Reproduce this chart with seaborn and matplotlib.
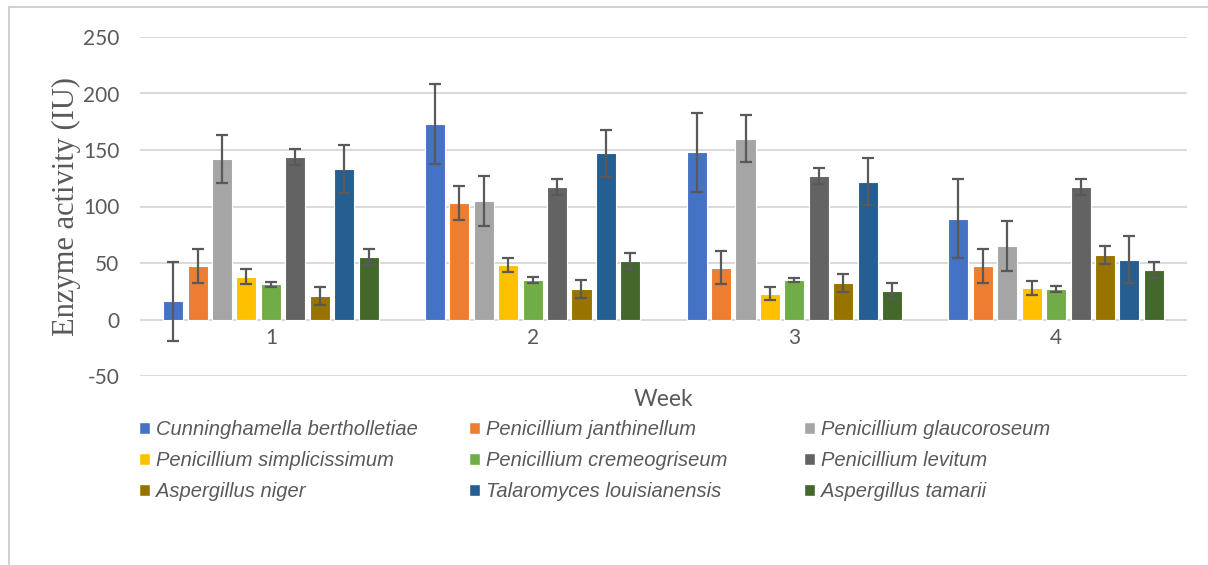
import pandas as pd
import matplotlib
matplotlib.use("Agg")
import matplotlib.pyplot as plt
from matplotlib.lines import Line2D
from matplotlib.patches import Patch
import seaborn as sns

# Chart data
weeks = ["1", "2", "3", "4"]
species = [
    "Cunninghamella bertholletiae", "Penicillium janthinellum", "Penicillium glaucoroseum",
    "Penicillium simplicissimum", "Penicillium cremeogriseum", "Penicillium levitum",
    "Aspergillus niger", "Talaromyces louisianensis", "Aspergillus tamarii",
]
# mean activity per species, one value per week
activity = {
    "Cunninghamella bertholletiae": [16, 173, 148, 89],
    "Penicillium janthinellum": [47, 103, 46, 47],
    "Penicillium glaucoroseum": [142, 105, 160, 65],
    "Penicillium simplicissimum": [38, 48, 23, 28],
    "Penicillium cremeogriseum": [31, 35, 35, 27],
    "Penicillium levitum": [144, 117, 127, 117],
    "Aspergillus niger": [21, 27, 32, 57],
    "Talaromyces louisianensis": [133, 147, 122, 53],
    "Aspergillus tamarii": [55, 52, 25, 44],
}
# error bar half-length
errors = {
    "Cunninghamella bertholletiae": [35, 35, 35, 35],
    "Penicillium janthinellum": [15, 15, 15, 15],
    "Penicillium glaucoroseum": [21, 22, 21, 22],
    "Penicillium simplicissimum": [7, 6, 6, 6],
    "Penicillium cremeogriseum": [2, 2.5, 2, 2.5],
    "Penicillium levitum": [7, 7, 7, 7],
    "Aspergillus niger": [8, 8, 8, 8],
    "Talaromyces louisianensis": [21, 21, 21, 21],
    "Aspergillus tamarii": [7, 7, 7, 7],
}
colors = ["#4472C4", "#ED7D31", "#A5A5A5", "#FFC000", "#70AD47",
          "#636363", "#997300", "#255E91", "#43682B"]

rows = []
for sp in species:
    for w, v, e in zip(weeks, activity[sp], errors[sp]):
        rows.append({"week": w, "species": sp, "value": v, "err": e})
df = pd.DataFrame(rows)

sns.set_style("white")
plt.rcParams["font.family"] = ["Lato", "DejaVu Sans"]
plt.rcParams["axes.unicode_minus"] = False

fig = plt.figure(figsize=(12.08, 5.65), dpi=100)
ax = fig.add_axes([140 / 1208, 1 - 376 / 565, 1047 / 1208, 339 / 565])

sns.barplot(data=df, x="week", y="value", hue="species", order=weeks,
            hue_order=species, palette=colors, saturation=1, width=0.84, gap=0.18,
            edgecolor="white", linewidth=0.8, errorbar=None, legend=False, ax=ax)

# error bars on each bar
for sp, cont in zip(species, ax.containers):
    xs = [b.get_x() + b.get_width() / 2 for b in cont]
    hs = [b.get_height() for b in cont]
    ax.errorbar(xs, hs, yerr=errors[sp], fmt="none", ecolor="#595959",
                elinewidth=1.6, capsize=4.3, capthick=1.6, zorder=5)

ax.set_xlim(-0.5, 3.5)
ax.set_ylim(-50, 250)
ax.set_yticks(range(-50, 251, 50))
ax.yaxis.grid(True, color="#d9d9d9", linewidth=1.4)
ax.set_axisbelow(True)
for s in ax.spines.values():
    s.set_visible(False)
ax.spines["bottom"].set_position(("data", 0))
ax.tick_params(axis="both", length=0, labelsize=15, labelcolor="#595959")
ax.tick_params(axis="x", pad=6)
ax.tick_params(axis="y", pad=15)

ax.set_xlabel("Week", fontsize=16.5, color="#595959")
ax.xaxis.set_label_coords(0.5, -0.038)
ax.set_ylabel("Enzyme activity (IU)", fontsize=22, color="#595959",
              family="Liberation Serif", labelpad=1)

# legend in three columns, row-wise order like the original
col_x = [139 / 1208, 469 / 1208, 804 / 1208]
for c in range(3):
    idx = [c, c + 3, c + 6]
    handles = [Patch(facecolor=colors[i]) for i in idx]
    labels = [species[i] for i in idx]
    leg = fig.legend(handles, labels, loc="upper left",
                     bbox_to_anchor=(col_x[c], 1 - 420 / 565), frameon=False,
                     handlelength=0.55, handleheight=0.55, handletextpad=0.3,
                     labelspacing=0.6, borderaxespad=0, borderpad=0,
                     prop={"family": "Liberation Sans", "style": "italic", "size": 14.5})
    for t in leg.get_texts():
        t.set_color("#595959")

# chart area border (left and top edge)
fig.add_artist(Line2D([9 / 1208, 9 / 1208], [0, 1 - 7 / 565], color="#c8c8c8", lw=1.2))
fig.add_artist(Line2D([9 / 1208, 1], [1 - 7 / 565, 1 - 7 / 565], color="#c8c8c8", lw=1.2))

fig.savefig("out.png", dpi=100)
